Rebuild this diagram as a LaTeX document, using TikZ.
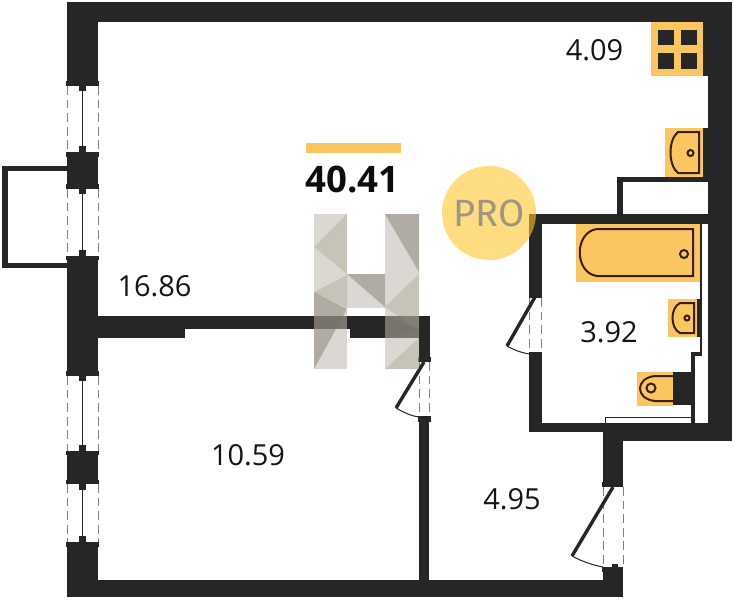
\documentclass[tikz,border=0pt]{standalone}
\usepackage{fontspec}
\setmainfont{Open Sans}
\newfontfamily\profont{Fira Sans}
\definecolor{wallC}{HTML}{262626}
\definecolor{fixC}{HTML}{F9C660}
\definecolor{lineC}{HTML}{3A1F10}
\definecolor{dashC}{HTML}{808080}
\definecolor{circC}{HTML}{FFC72C}
\definecolor{proC}{HTML}{9C9684}
\definecolor{hlightC}{HTML}{BFB9B0}
\definecolor{hmidC}{HTML}{9E937E}
\definecolor{hdarkC}{HTML}{767061}
\tikzset{
  wall/.style={fill=wallC},
  fixture/.style={fill=fixC},
  fixline/.style={draw=lineC, line width=0.5mm},
  winglass/.style={draw=wallC, line width=0.25mm},
  windash/.style={draw=dashC, line width=0.25mm, dash pattern=on 2.2mm off 1.2mm},
  leaf/.style={draw=wallC, line width=0.85mm},
  swing/.style={draw=wallC, line width=0.25mm},
  arealabel/.style={inner sep=0, font=\fontsize{20.6pt}{24pt}\selectfont, text=black!92},
  hlight/.style={fill=hlightC, opacity=0.55},
  hmid/.style={fill=hmidC, opacity=0.30},
  hdark/.style={fill=hdarkC, opacity=0.42}
}
\begin{document}
\begin{tikzpicture}[x=0.25mm,y=-0.25mm]
\useasboundingbox (0,0) rectangle (734,600);
\fill[white] (0,0) rectangle (734,600);

% outer walls
\fill[wall] (67,2) rectangle (732,22);
\fill[wall] (708,2) rectangle (732,441);
\fill[wall] (67,2) rectangle (98,81);
\fill[wall] (67,152) rectangle (98,188);
\fill[wall] (67,258) rectangle (98,372);
\fill[wall] (67,452) rectangle (98,483);
\fill[wall] (67,543) rectangle (98,597);
\fill[wall] (67,580) rectangle (623,597);
\fill[wall] (603,567) rectangle (623,597);

% inner walls
\fill[wall] (98,316) rectangle (430,329);
\fill[wall] (98,329) rectangle (185,338);
\fill[wall] (350,329) rectangle (419,338);
\fill[wall] (419,316) rectangle (430,359);
\fill[wall] (419,418) rectangle (429,580);
\fill[wall] (529,214) rectangle (708,224);
\fill[wall] (529,214) rectangle (542,296);
\fill[wall] (529,354) rectangle (542,432);
\fill[wall] (529,423) rectangle (603,432);
\fill[wall] (603,423) rectangle (732,441);
\fill[wall] (603,430) rectangle (623,484);
\fill[wall] (617,177) rectangle (708,182);
\fill[wall] (617,177) rectangle (623,214);
\fill[wall] (703,22) rectangle (708,76);
\fill[wall] (703,128) rectangle (708,177);

% shaft beside the bathroom
\fill[wall] (700,224) rectangle (702,355);
\fill[wall] (691,352) rectangle (702,356);
\fill[wall] (691,352) rectangle (695,423);
\draw[draw=wallC, line width=0.25mm, fill=white] (605,423) -- (605,417) -- (691,417) -- (691,423);

% kitchen
\fill[fixture] (651,22) rectangle (703,76);
\fill[wall] (658,30) rectangle (674,45);
\fill[wall] (681,30) rectangle (697,45);
\fill[wall] (658,53) rectangle (674,69);
\fill[wall] (681,53) rectangle (697,69);
\fill[fixture] (665,128) rectangle (703,177);
\draw[fixline] (699,132) -- (678,132) .. controls (668,140) and (668,165) .. (678,173) -- (699,173) -- cycle;
\draw[fixline] (690.5,153) circle (3);

% bath
\fill[fixture] (576,224) rectangle (700,282);
\draw[fixline] (693,229) -- (597,229) .. controls (574,232) and (574,273) .. (597,276) -- (693,276) -- cycle;
\draw[fixline] (684,254) circle (4);
\fill[fixture] (668,299) rectangle (697,337);
\fill[wall] (697,299) rectangle (700,337);
\draw[fixline] (694,303) -- (680,303) .. controls (670,308) and (670,328) .. (680,333) -- (694,333) -- cycle;
\draw[fixline] (687,318) circle (2.5);
\fill[fixture] (637,372) rectangle (673,406);
\fill[wall] (673,372) rectangle (691,405);
\draw[fixline] (673,376) -- (655,376) .. controls (635,378) and (635,399) .. (655,401) -- (673,401);
\draw[fixline] (651,388) circle (4.5);

% windows
\draw[windash] (67,86) -- (67,152);
\draw[windash] (98,86) -- (98,152);
\draw[winglass] (82.5,90) -- (82.5,147);
\fill[wall] (66,81) rectangle (99,86);
\fill[wall] (79,86) rectangle (86,91);
\fill[wall] (79,146) rectangle (86,152);
\fill[wall] (66,152) rectangle (99,157);

\draw[windash] (67,189) -- (67,257);
\draw[windash] (98,189) -- (98,257);
\draw[winglass] (82.5,193) -- (82.5,250);
\fill[wall] (66,184) rectangle (99,189);
\fill[wall] (79,189) rectangle (86,194);
\fill[wall] (79,250) rectangle (86,256);
\fill[wall] (66,256) rectangle (99,260);

\draw[windash] (67,376) -- (67,452);
\draw[windash] (98,376) -- (98,452);
\draw[winglass] (82.5,380) -- (82.5,446);
\fill[wall] (66,371) rectangle (99,376);
\fill[wall] (79,376) rectangle (86,381);
\fill[wall] (79,445) rectangle (86,451);
\fill[wall] (66,451) rectangle (99,455);

\draw[windash] (67,484) -- (67,542);
\draw[windash] (98,484) -- (98,542);
\draw[winglass] (82.5,488) -- (82.5,537);
\fill[wall] (66,480) rectangle (99,484);
\fill[wall] (79,484) rectangle (86,490);
\fill[wall] (79,536) rectangle (86,542);
\fill[wall] (66,542) rectangle (99,547);

% balcony
\fill[wall] (2,166) rectangle (67,171);
\fill[wall] (2,263) rectangle (67,268);
\fill[wall] (2,166) rectangle (8,268);

% doors
\draw[windash] (529,298) -- (529,353);
\draw[windash] (541,298) -- (541,353);
\fill[wall] (529,294) rectangle (542,298);
\fill[wall] (529,352) rectangle (542,358);
\draw[leaf] (535,297) -- (507,346);
\draw[swing] (507,346) .. controls (514,350) and (522,353) .. (530,354);

\draw[windash] (419,362) -- (419,417);
\draw[windash] (429,362) -- (429,417);
\fill[wall] (418,357) rectangle (431,362);
\fill[wall] (418,416) rectangle (431,422);
\draw[leaf] (424,362) -- (396,408);
\draw[swing] (396,408) .. controls (403,412) and (411,416) .. (419,417);

\draw[windash] (603,487) -- (603,567);
\draw[windash] (623,487) -- (623,567);
\fill[wall] (602,482) rectangle (623,487);
\fill[wall] (602,567) rectangle (623,572);
\fill[wall] (612,564) rectangle (618,567);
\draw[leaf] (613,487) -- (572,556);
\draw[swing] (572,556) .. controls (581,561) and (592,565) .. (603,567);

% total
\fill[fill=fixC] (306,143) rectangle (401,153);
\node (total) [inner sep=0, font=\fontsize{26pt}{30pt}\selectfont\bfseries, text=black!95] at (352.5,179) {40.41};

% watermark circle
\fill[fill=circC, opacity=0.6] (489,213) circle (47);
\node (pro) [inner sep=0, font=\profont\fontsize{27pt}{30pt}\selectfont, text=proC] at (489,213.5) {PRO};

% watermark letter
\fill[hlight] (314,214) rectangle (347,369);
\fill[hlight] (385,214) rectangle (419,369);
\fill[hlight] (347,274) rectangle (385,308);
\fill[hmid] (347,214) -- (314,247) -- (347,274) -- cycle;
\fill[hmid] (347,275) -- (314,292) -- (347,308) -- cycle;
\fill[hdark] (314,292) -- (347,309) -- (314,369) -- cycle;
\fill[hdark] (347,274) -- (385,274) -- (385,307) -- cycle;
\fill[hdark] (385,214) -- (419,214) -- (419,272) -- cycle;
\fill[hmid] (419,274) -- (385,307) -- (419,330) -- cycle;
\fill[hdark] (385,316) -- (419,330) -- (385,338) -- cycle;
\fill[hmid] (385,369) -- (419,338) -- (419,369) -- cycle;

% room areas
\node (areaLiving) [arealabel] at (154.5,286) {16.86};
\node (areaKitchen) [arealabel] at (594.5,50) {4.09};
\node (areaBath) [arealabel] at (609,332) {3.92};
\node (areaHall) [arealabel] at (512,499) {4.95};
\node (areaBed) [arealabel] at (248,455) {10.59};
\end{tikzpicture}
\end{document}
